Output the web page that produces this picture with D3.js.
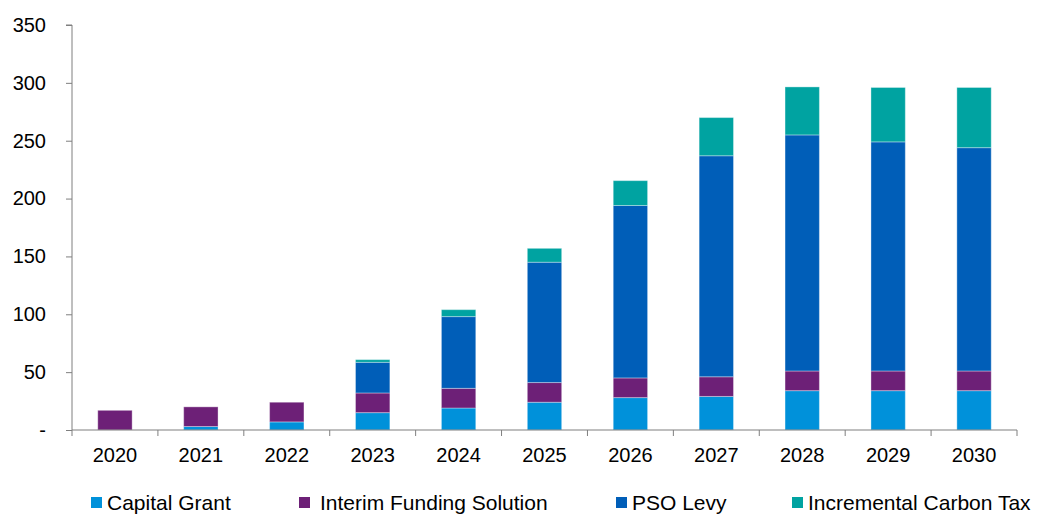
<!DOCTYPE html>
<html>
<head>
<meta charset="utf-8">
<script src="https://cdn.jsdelivr.net/npm/d3@7"></script>
<style>
  body { margin: 0; background: #fff; }
  text { font-family: "Liberation Sans", Arial, sans-serif; fill: #000; }
</style>
</head>
<body>
<div id="chart"></div>
<script>
(function () {

  // Data
  const years = ["2020","2021","2022","2023","2024","2025","2026","2027","2028","2029","2030"]
  const capitalGrant = [0, 3, 7, 15, 19, 24, 28, 29, 34, 34, 34]
  const interimFunding = [17, 17, 17, 17, 17, 17, 17, 17, 17, 17, 17]
  const psoLevy = [0, 0, 0, 26.5, 62, 104, 149, 191, 204, 198, 193]
  const carbonTax = [0, 0, 0, 2.3, 6, 12, 21.5, 33, 41.5, 47, 52]
  const seriesNames = ["Capital Grant", "Interim Funding Solution", "PSO Levy", "Incremental Carbon Tax"]
  const yTicks = [0, 50, 100, 150, 200, 250, 300, 350]

  // Margin convention
  const margin = { top: 25, right: 20, bottom: 84, left: 72 }
  const width = 1037 - margin.left - margin.right
  const height = 514 - margin.top - margin.bottom

  const svg = d3.select("#chart").append("svg")
      .attr("width", 1037)
      .attr("height", 514)

  const g = svg.append("g")
      .attr("transform", "translate(" + margin.left + "," + margin.top + ")")

  const colorScale = d3.scaleOrdinal()
    .domain(seriesNames)
    .range(["#0091DA", "#6D2077", "#005EB8", "#00A3A1"])

  const table = years.map((y, i) => ({
    year: y,
    "Capital Grant": capitalGrant[i],
    "Interim Funding Solution": interimFunding[i],
    "PSO Levy": psoLevy[i],
    "Incremental Carbon Tax": carbonTax[i]
  }))

  const stacked = d3.stack().keys(seriesNames)(table)

  const xPositionScale = d3.scaleBand()
    .domain(years)
    .range([0, width])
    .paddingInner(0.6)
    .paddingOuter(0.3)

  const yPositionScale = d3.scaleLinear()
    .domain([0, 350])
    .range([height, 0])

  // Bars
  g.selectAll('.series')
    .data(stacked)
    .join('g')
    .attr('class', 'series')
    .attr('fill', d => colorScale(d.key))
    .selectAll('rect')
    .data(d => d)
    .join('rect')
    .attr('x', d => xPositionScale(d.data.year))
    .attr('width', xPositionScale.bandwidth())
    .attr('y', d => yPositionScale(d[1]))
    .attr('height', d => yPositionScale(d[0]) - yPositionScale(d[1]))
    .attr('stroke', 'rgba(255,255,255,0.35)')
    .attr('stroke-width', 1)

  // Y axis
  const yAxis = d3.axisLeft(yPositionScale)
    .tickValues(yTicks)
    .tickSize(6)
    .tickPadding(20)
    .tickFormat(d => d === 0 ? "-" : d)

  g.append('g')
    .attr('class', 'y-axis')
    .call(yAxis)
    .call(a => a.selectAll('text').style('font-size', '20px'))

  // X axis with ticks between categories
  const xAxisG = g.append('g')
    .attr('transform', 'translate(0,' + height + ')')

  xAxisG.append('line')
    .attr('x1', 0).attr('x2', width)
    .attr('stroke', '#7f7f7f')

  const bounds = years.map(y => xPositionScale(y) - xPositionScale.step() * xPositionScale.paddingInner() / 2)
  bounds[0] = 0
  bounds.push(width)

  xAxisG.selectAll('.xtick')
    .data(bounds)
    .join('line')
    .attr('class', 'xtick')
    .attr('x1', d => d).attr('x2', d => d)
    .attr('y1', 0).attr('y2', 6)
    .attr('stroke', '#7f7f7f')

  xAxisG.selectAll('.xlabel')
    .data(years)
    .join('text')
    .attr('class', 'xlabel')
    .attr('x', d => xPositionScale(d) + xPositionScale.bandwidth() / 2)
    .attr('y', 32)
    .attr('text-anchor', 'middle')
    .style('font-size', '20px')
    .text(d => d)

  g.selectAll('.y-axis path, .y-axis line').attr('stroke', '#7f7f7f')
  g.select('.y-axis .domain').attr('d', 'M-6,0H0V' + height)

  // Legend
  const legendX = [91, 299, 616, 792]
  const legend = svg.append('g')
    .selectAll('g')
    .data(seriesNames)
    .join('g')
    .attr('transform', (d, i) => 'translate(' + legendX[i] + ',497)')

  legend.append('rect')
    .attr('width', 11).attr('height', 11)
    .attr('fill', d => colorScale(d))

  legend.append('text')
    .attr('x', (d, i) => i === 1 ? 21 : 16)
    .attr('y', 13)
    .style('font-size', '21px')
    .text(d => d)

})();
</script>
</body>
</html>
